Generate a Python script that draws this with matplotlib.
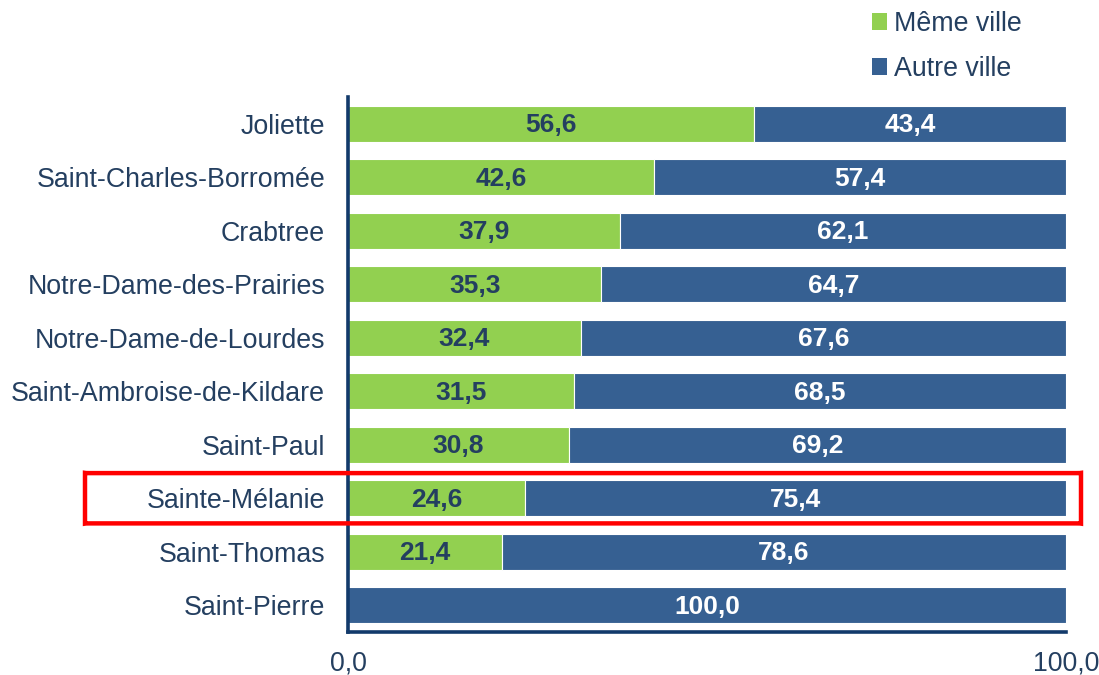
import matplotlib
matplotlib.use("Agg")
import matplotlib.pyplot as plt
from matplotlib.patches import FancyBboxPatch, Patch
import matplotlib.transforms as mtransforms

plt.rcParams['font.family'] = ['Liberation Sans', 'DejaVu Sans']

categories = ["Joliette", "Saint-Charles-Borromée", "Crabtree", "Notre-Dame-des-Prairies",
              "Notre-Dame-de-Lourdes", "Saint-Ambroise-de-Kildare", "Saint-Paul",
              "Sainte-Mélanie", "Saint-Thomas", "Saint-Pierre"]
meme_ville = [56.6, 42.6, 37.9, 35.3, 32.4, 31.5, 30.8, 24.6, 21.4, 0.0]
autre_ville = [43.4, 57.4, 62.1, 64.7, 67.6, 68.5, 69.2, 75.4, 78.6, 100.0]
series_names = ["Même ville", "Autre ville"]
xtick_vals = [0, 100]
xtick_labels = ["0,0", "100,0"]
highlight = "Sainte-Mélanie"

GREEN = "#92D050"
BLUE = "#366092"
TEXT = "#243F60"
SPINE = "#123A6B"

fig = plt.figure(figsize=(10.99, 6.75), dpi=100)
ax = fig.add_axes([348/1099, 1-632/675, (1066-348)/1099, (632-97)/675])

y = list(range(len(categories)))
bh = 0.68
ax.barh(y, meme_ville, height=bh, color=GREEN, edgecolor="white", linewidth=0.8)
ax.barh(y, autre_ville, left=meme_ville, height=bh, color=BLUE, edgecolor="white", linewidth=0.8)

for i, (m, a) in enumerate(zip(meme_ville, autre_ville)):
    if m > 0:
        ax.text(m/2, i + 0.03, f"{m:.1f}".replace(".", ","), ha="center", va="center",
                fontsize=19, fontweight="bold", color=TEXT)
    ax.text(m + a/2, i + 0.03, f"{a:.1f}".replace(".", ","), ha="center", va="center",
            fontsize=19, fontweight="bold", color="white")

ax.set_ylim(len(categories) - 0.5, -0.5)
ax.set_xlim(0, 100)
ax.set_yticks(y)
ax.set_yticklabels(categories, fontsize=19.3, color=TEXT)
ax.set_xticks(xtick_vals)
ax.set_xticklabels(xtick_labels, fontsize=19.3, color=TEXT)
ax.tick_params(axis="both", length=0)
ax.tick_params(axis="y", pad=16.5)
ax.tick_params(axis="x", pad=13)
for s in ["top", "right"]:
    ax.spines[s].set_visible(False)
for s in ["left", "bottom"]:
    ax.spines[s].set_color(SPINE)
    ax.spines[s].set_linewidth(2.6)

handles = [Patch(facecolor=GREEN), Patch(facecolor=BLUE)]
fig.legend(handles, series_names, loc="upper left", bbox_to_anchor=(861/1099, 1.0),
           borderaxespad=0, frameon=False, fontsize=19.3, labelcolor=TEXT,
           handlelength=0.58, handleheight=0.58, handletextpad=0.25, labelspacing=0.72)

# highlight rectangle
hi = categories.index(highlight)
trans = mtransforms.blended_transform_factory(fig.transFigure, ax.transData)
x0, x1 = 85/1099, 1081/1099
rect = FancyBboxPatch((x0, hi + 0.47), x1 - x0, -0.94, boxstyle="round,pad=0,rounding_size=0.004",
                      transform=trans, fill=False, edgecolor="#FF0000", linewidth=3.2,
                      clip_on=False, zorder=10)
fig.add_artist(rect)

fig.savefig("out.png", dpi=100)
